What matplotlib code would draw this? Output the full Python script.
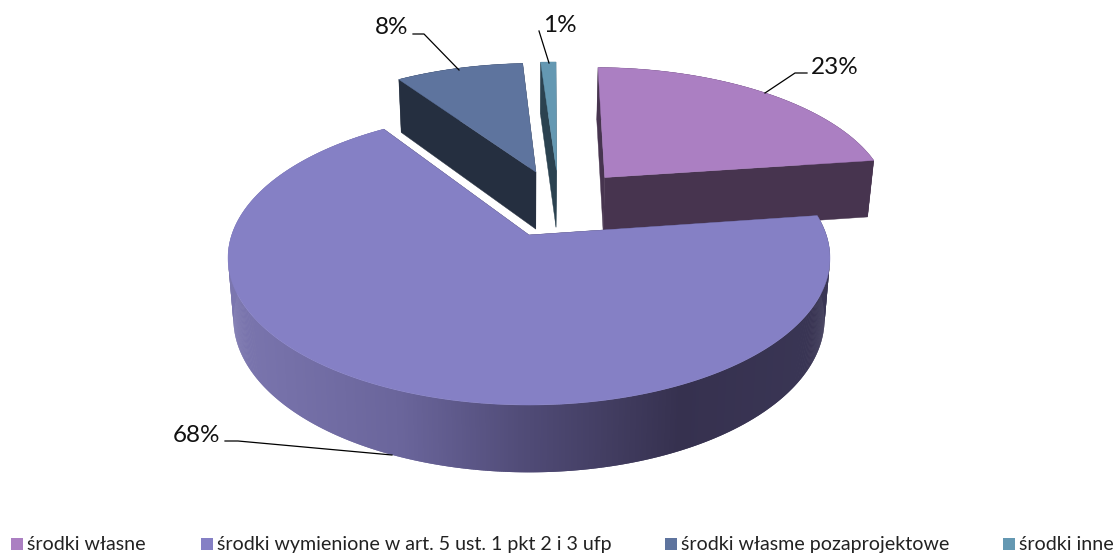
import numpy as np
import matplotlib
matplotlib.use("Agg")
import matplotlib.pyplot as plt
from matplotlib.colors import to_rgb
from matplotlib.patches import Rectangle

plt.rcParams["font.family"] = ["Lato", "DejaVu Sans"]

# data
labels = ["środki własne", "środki wymienione w art. 5 ust. 1 pkt 2 i 3 ufp",
          "środki własme pozaprojektowe", "środki inne"]
values = [22.6, 67.9, 8.49, 1.01]

# styles
top_colors = ["#ab7fc2", "#8580c5", "#5e749e", "#6498b2"]
side_colors = ["#47344f", "#36314f", "#252f40", "#2b4250"]
explode = [(0.2716, 0.4275), (0, 0), (0.025, 0.471), (0.0995, 0.485)]
start_angle = 0.7

# projection of the pie disk to pixels
cx, cy = 529, 235
A, B, k = 297.3, 143.5, 0.156


def project(u, v):
    w = 1 + k * v
    return cx + A * u / w, cy - B * v / w


def drop(x, y):
    # same point on the underside of the pie
    return cx + 0.982 * (x - cx), y + 53 + 0.044 * (y - 80)


def main_side_color(x):
    xs = [228, 400, 520, 680, 830]
    cs = np.array([to_rgb(c) for c in ["#7b76af", "#6a659b", "#514c78", "#36314f", "#3a3655"]])
    return [np.interp(x, xs, cs[:, i]) for i in range(3)]


fig = plt.figure(figsize=(11.19, 5.53), dpi=100)
ax = fig.add_axes([0, 0, 1, 1])
ax.set_xlim(0, 1119)
ax.set_ylim(553, 0)
ax.axis("off")

angles = start_angle + np.cumsum([0] + values) * 3.6

for i in [3, 2, 0, 1]:
    a0, a1 = np.radians(angles[i]), np.radians(angles[i + 1])
    t = np.linspace(a0, a1, max(int(np.degrees(a1 - a0)) * 3, 4))
    ou, ov = explode[i]
    x, y = project(ou + np.sin(t), ov + np.cos(t))
    ax_, ay_ = project(ou, ov)
    bx, by = drop(x, y)
    abx, aby = drop(ax_, ay_)
    # outer wall, each piece overlaps the next one so no seams show
    for j in range(len(t) - 1):
        e = min(j + 2, len(t) - 1)
        c = main_side_color((x[j] + x[e]) / 2) if i == 1 else side_colors[i]
        ax.fill([x[j], x[j + 1], x[e], bx[e], bx[j + 1], bx[j]],
                [y[j], y[j + 1], y[e], by[e], by[j + 1], by[j]],
                facecolor=c, edgecolor="none")
    # cut walls
    for e in [0, -1]:
        ax.fill([ax_, x[e], bx[e], abx], [ay_, y[e], by[e], aby], color=side_colors[i], lw=0.3)
    ax.fill(np.r_[ax_, x], np.r_[ay_, y], color=top_colors[i], lw=0.3)

# data labels with leader lines
label_pos = [(835, 67.5), (197, 435.5), (392, 27.5), (560, 25.5)]
leaders = [([765, 795, 807], [93, 73, 73]), ([392, 238, 225], [455, 441, 441]),
           ([459, 424, 413], [70, 34, 34]), ([549, 539], [63, 31])]
for v, p, l in zip(values, label_pos, leaders):
    ax.plot(l[0], l[1], color="black", lw=0.9)
    ax.text(p[0], p[1], f"{v:.0f}%", fontsize=17.5, ha="center", va="center", color="#111111")

# legend
legend_x = [11, 201, 665, 1003]
for s, c, lx in zip(labels, top_colors, legend_x):
    ax.add_patch(Rectangle((lx, 538), 12, 12, color=c, lw=0))
    ax.text(lx + 16, 544.5, s, fontsize=14.1, ha="left", va="center", color="#222222")

fig.savefig("out.png", dpi=100)
